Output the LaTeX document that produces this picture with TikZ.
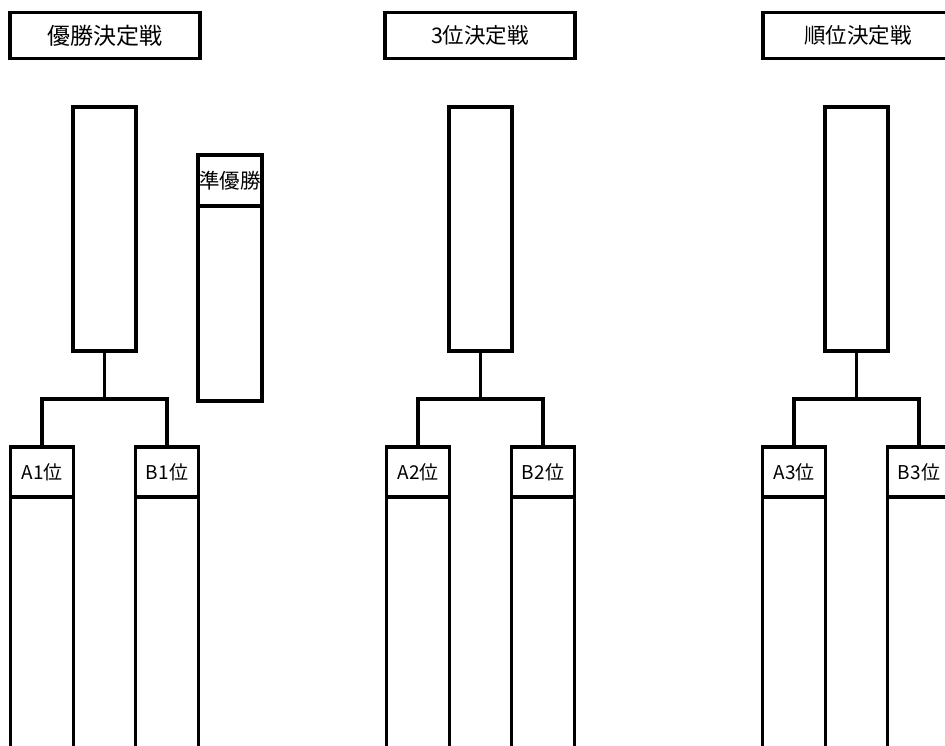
\documentclass[tikz,border=0pt]{standalone}
\usepackage{fontspec}
\setmainfont{Noto Sans CJK JP}
\usetikzlibrary{positioning}

\begin{document}
\begin{tikzpicture}[x=1pt, y=1pt, line width=3.1pt,
		every node/.style = {shape=rectangle, draw, outer sep=0pt, inner sep=0pt},
		titlebox/.style = {minimum width=190pt, minimum height=46pt},
		slot/.style = {minimum width=63pt, minimum height=50pt, font=\fontsize{19}{22}\selectfont},
		level distance=243pt, sibling distance=125pt,
		edge from parent/.style={draw, line width=3.1pt},
		edge from parent path={(\tikzparentnode.south) -- ++(0,-48) -| (\tikzchildnode.north)}]
	\useasboundingbox (0,0) rectangle (945,-745);
	\clip (0,0) rectangle (945,-745);
	% titles
	\node[titlebox, font=\fontsize{23}{26}\selectfont] (final) at (105,-35.5) {優勝決定戦};
	\node[titlebox, font=\fontsize{21.5}{24}\selectfont] (third) at (480,-35.5) {3位決定戦};
	\node[titlebox, font=\fontsize{21.5}{24}\selectfont] (place) at (858,-35.5) {順位決定戦};
	% brackets
	\node[slot, minimum height=244pt] (win1) at (104.5,-229) {}
		child { node[slot] (a1) {A1位} }
		child { node[slot] (b1) {B1位} };
	\node[slot, minimum height=244pt] (win2) at (480.5,-229) {}
		child { node[slot] (a2) {A2位} }
		child { node[slot] (b2) {B2位} };
	\node[slot, minimum height=244pt] (win3) at (856.5,-229) {}
		child { node[slot] (a3) {A3位} }
		child { node[slot] (b3) {B3位} };
	% runner-up
	\node[slot, minimum width=64pt, minimum height=51pt, font=\fontsize{20.5}{24}\selectfont] (second) at (230,-180.5) {準優勝};
	\node[slot, minimum width=64pt, minimum height=195pt, below=0pt of second] (secondbody) {};
	% columns
	\node[slot, minimum height=290pt, below=0pt of a1] (a1body) {};
	\node[slot, minimum height=290pt, below=0pt of b1] (b1body) {};
	\node[slot, minimum height=290pt, below=0pt of a2] (a2body) {};
	\node[slot, minimum height=290pt, below=0pt of b2] (b2body) {};
	\node[slot, minimum height=290pt, below=0pt of a3] (a3body) {};
	\node[slot, minimum height=290pt, below=0pt of b3] (b3body) {};
\end{tikzpicture}
\end{document}
